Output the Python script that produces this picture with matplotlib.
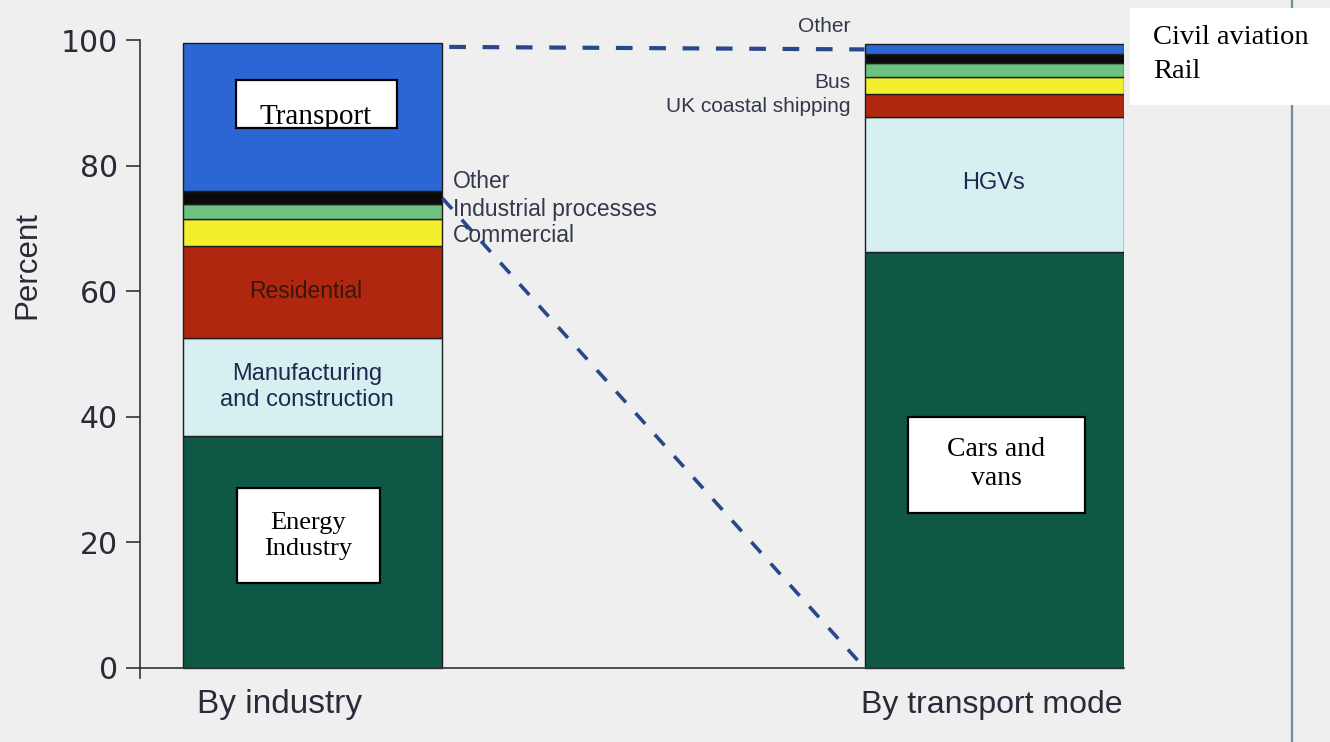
import matplotlib.pyplot as plt
from matplotlib.patches import Rectangle
from matplotlib.lines import Line2D
import numpy as np

# share of emissions (percent)
industry_labels = ['Energy industry', 'Manufacturing and construction', 'Residential',
                   'Commercial', 'Industrial processes', 'Other', 'Transport']
industry_values = [37.0, 15.5, 14.7, 4.3, 2.4, 2.1, 23.5]

transport_labels = ['Cars and vans', 'HGVs', 'UK coastal shipping', 'Bus',
                    'Rail', 'Other', 'Civil aviation']
transport_values = [66.2, 21.5, 3.7, 2.7, 2.3, 1.3, 1.7]

categories = ['By industry', 'By transport mode']
layer_colors = ['#0f5846', '#d6eff1', '#b0270f', '#f4ef2c', '#6dc27f', '#0a0a0a', '#2b66d4']

W, H = 1330, 742
bg = '#efefef'
plt.rcParams['font.family'] = ['Liberation Sans', 'DejaVu Sans']

fig = plt.figure(figsize=(W / 100, H / 100), dpi=100, facecolor=bg)
ax = fig.add_axes([140 / W, 64 / H, (1124 - 140) / W, (678 - 40) / H], facecolor=bg)


def px(x, y):
    return x / W, 1 - y / H


bw = 0.381
x = np.arange(len(categories))
for i, vals in enumerate([industry_values, transport_values]):
    bottom = 0
    for v, c in zip(vals, layer_colors):
        ax.bar(x[i], v, bottom=bottom, width=bw, color=c, edgecolor='#1d1d1d', linewidth=1.0, zorder=2)
        bottom += v

# dashed link lines from the transport segment to the transport-mode bar
top_left = sum(industry_values)
transport_bottom = top_left - industry_values[-1]
top_right = sum(transport_values)
ax.plot([x[0] + bw / 2 + 0.01, x[1] - bw / 2], [top_left - 0.6, top_right - 0.9],
        ls=(0, (4, 4)), color='#27488a', lw=3, zorder=3, clip_on=False)
ax.plot([x[0] + bw / 2, x[1] - bw / 2], [transport_bottom - 1.2, 0],
        ls=(0, (4, 4)), color='#27488a', lw=2.6, zorder=3)

ax.set_xlim(-0.253, 1.19)
ax.set_ylim(-1.6, 100)
ax.set_yticks([0, 20, 40, 60, 80, 100])
ax.tick_params(axis='y', length=10, width=1.2, color='#333', labelsize=21.5, labelcolor='#2a2a38', pad=6)
for lab in ax.get_yticklabels():
    lab.set_family('DejaVu Sans')
ax.set_xticks([])
for s in ['top', 'right']:
    ax.spines[s].set_visible(False)
ax.spines['bottom'].set_position(('data', 0))
ax.spines['bottom'].set_color('#333')
ax.spines['left'].set_color('#333')
ax.spines['left'].set_linewidth(1.2)
ax.spines['bottom'].set_linewidth(1.2)

fig.text(*px(27, 265), 'Percent', rotation=90, ha='center', va='center', fontsize=22.5, color='#2a2a38')
fig.text(*px(280, 705), categories[0], ha='center', va='center', fontsize=24, color='#2a2a38')
fig.text(*px(992, 705), categories[1], ha='center', va='center', fontsize=23, color='#2a2a38')

# labels printed inside the bars
fig.text(*px(306, 291), 'Residential', ha='center', va='center', fontsize=16.5, color='#3a1510')
fig.text(*px(307, 387), 'Manufacturing\nand construction', ha='center', va='center',
         fontsize=17, color='#1b2a4e', linespacing=1.25)
fig.text(*px(993, 183), 'HGVs', ha='center', va='center', fontsize=17, color='#1b2a4e')

# side labels
for lab, yy in [('Other', 181), ('Industrial processes', 209), ('Commercial', 236)]:
    fig.text(*px(453, yy), lab, ha='left', va='center', fontsize=16.5, color='#33384a')
for lab, yy in [('Other', 27), ('Bus', 82), ('UK coastal shipping', 107)]:
    fig.text(*px(850, yy), lab, ha='right', va='center', fontsize=15, color='#33384a')

# right-hand frame line
fig.add_artist(Line2D([1292 / W] * 2, [0, 1], transform=fig.transFigure, color='#6d9097', lw=1.6))


def box(x0, y0, x1, y1, edge=True):
    r = Rectangle(px(x0, y1), (x1 - x0) / W, (y1 - y0) / H, transform=fig.transFigure,
                  facecolor='white', edgecolor='black' if edge else 'none', lw=1.6, zorder=5)
    fig.add_artist(r)
    return r


serif = ['Liberation Serif', 'DejaVu Serif']
r = box(236, 80, 397, 128)
t = fig.text(*px(316, 124), 'Transport', ha='center', va='baseline', fontsize=21,
             family=serif, color='black', zorder=6)
t.set_clip_path(r)

box(237, 488, 380, 583)
fig.text(*px(308, 536), 'Energy\nIndustry', ha='center', va='center', fontsize=19,
         family=serif, color='black', zorder=6, linespacing=1.2)

box(908, 417, 1085, 513)
fig.text(*px(996, 464), 'Cars and\nvans', ha='center', va='center', fontsize=20,
         family=serif, color='black', zorder=6, linespacing=1.2)

box(1130, 8, 1332, 105, edge=False)
fig.text(*px(1153, 37), 'Civil aviation', ha='left', va='center', fontsize=20.5,
         family=serif, color='black', zorder=6)
fig.text(*px(1153, 71), 'Rail', ha='left', va='center', fontsize=20.5,
         family=serif, color='black', zorder=6)

fig.savefig('out.png', dpi=100, facecolor=bg)
